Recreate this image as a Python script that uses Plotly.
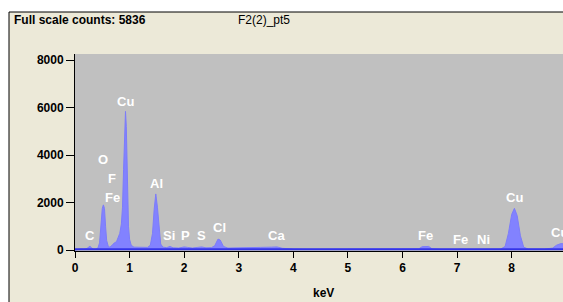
import plotly.graph_objects as go

# Spectrum (keV, counts)
energy_kev = [0.00, 0.05, 0.10, 0.15, 0.20, 0.24, 0.27, 0.30, 0.34, 0.38, 0.42, 0.45, 0.48, 0.50,
              0.52, 0.54, 0.56, 0.58, 0.61, 0.64, 0.68, 0.72, 0.76, 0.79, 0.82, 0.85, 0.87, 0.89,
              0.91, 0.925, 0.94, 0.96, 0.98, 1.00, 1.03, 1.08, 1.15, 1.25, 1.33, 1.38, 1.42, 1.45,
              1.48, 1.51, 1.54, 1.57, 1.61, 1.68, 1.74, 1.80, 1.90, 2.00, 2.06, 2.15, 2.25, 2.32,
              2.40, 2.50, 2.56, 2.62, 2.66, 2.72, 2.80, 3.00, 3.30, 3.40, 3.60, 3.70, 3.80, 4.00,
              4.30, 4.60, 5.00, 5.50, 6.00, 6.30, 6.36, 6.40, 6.48, 6.54, 6.70, 7.00, 7.06, 7.20,
              7.50, 7.80, 7.88, 7.94, 8.00, 8.05, 8.10, 8.16, 8.22, 8.30, 8.60, 8.75, 8.82, 8.90, 8.95]
counts = [0, 30, 40, 40, 50, 90, 170, 90, 40, 40, 80, 300, 1200, 1750,
          1900, 1750, 1000, 400, 150, 120, 200, 300, 350, 550, 700, 1100, 1800, 3400,
          4700, 5836, 5200, 2800, 1000, 450, 200, 120, 110, 100, 110, 200, 700, 1700,
          2360, 1800, 800, 250, 120, 100, 150, 90, 80, 130, 110, 80, 110, 130,
          90, 100, 180, 460, 420, 150, 80, 80, 90, 110, 120, 130, 70, 40,
          30, 30, 30, 30, 30, 50, 140, 150, 150, 50, 30, 30, 40, 30,
          30, 40, 150, 700, 1500, 1755, 1450, 600, 120, 40, 40, 80, 200, 270, 260]

# Element labels (text, keV, counts position)
label_text = ["C", "O", "F", "Fe", "Cu", "Al", "Si", "P", "S", "Cl", "Ca", "Fe", "Fe", "Ni", "Cu", "Cu"]
label_kev = [0.275, 0.51, 0.67, 0.68, 0.93, 1.50, 1.72, 2.03, 2.32, 2.64, 3.70, 6.43, 7.06, 7.49, 8.05, 8.88]
label_cnt = [590, 3830, 3030, 2190, 6270, 2780, 630, 630, 600, 930, 590, 630, 460, 460, 2190, 720]

y_ticks = [0, 2000, 4000, 6000, 8000]
x_ticks = [0, 1, 2, 3, 4, 5, 6, 7, 8]

FONT = "Liberation Sans, Arial, sans-serif"

fig = go.Figure()
fig.add_trace(go.Scatter(x=energy_kev, y=counts, mode="lines", fill="tozeroy",
                         fillcolor="#8282FF", line=dict(color="#7C7CFA", width=1),
                         hoverinfo="skip", showlegend=False))

W, H = 563, 302
L, R, T, B = 75, 0, 54, 51
pw = W - L - R
ph = H - T - B

def px_x(px):
    return (px - L) / pw

def px_y(py):
    return (H - B - py) / ph

shapes = [
    dict(type="rect", xref="paper", yref="paper", x0=px_x(9), x1=1.2, y0=-0.5, y1=px_y(12),
         fillcolor="#ECE9D8", line=dict(color="#000000", width=1), layer="below"),
    dict(type="rect", xref="paper", yref="paper", x0=0, x1=1.01, y0=0, y1=1,
         fillcolor="#C0C0C0", line=dict(width=0), layer="below"),
    dict(type="line", xref="paper", yref="y", x0=0, x1=1, y0=30, y1=30,
         line=dict(color="#3434E8", width=2)),
]

annotations = [
    dict(text="Full scale counts: 5836", xref="paper", yref="paper", x=px_x(12), y=px_y(20),
         xanchor="left", yanchor="middle", showarrow=False,
         font=dict(family=FONT, size=12, color="black", weight="bold")),
    dict(text="F2(2)_pt5", xref="paper", yref="paper", x=px_x(236), y=px_y(20),
         xanchor="left", yanchor="middle", showarrow=False,
         font=dict(family=FONT, size=12, color="black")),
    dict(text="keV", xref="paper", yref="paper", x=px_x(323), y=px_y(293),
         xanchor="center", yanchor="middle", showarrow=False,
         font=dict(family=FONT, size=12, color="black", weight="bold")),
]
for t, xk, yc in zip(label_text, label_kev, label_cnt):
    annotations.append(dict(text=t, x=xk, y=yc, xref="x", yref="y", showarrow=False,
                            xanchor="center", yanchor="middle",
                            font=dict(family=FONT, size=13, color="white", weight="bold")))

fig.update_layout(
    width=W, height=H, autosize=False,
    margin=dict(l=L, r=R, t=T, b=B, pad=0),
    paper_bgcolor="white", plot_bgcolor="rgba(0,0,0,0)",
    shapes=shapes, annotations=annotations, showlegend=False,
    xaxis=dict(range=[0, 8.94], tickvals=x_ticks, ticktext=[str(v) for v in x_ticks],
               showgrid=False, zeroline=False, showline=True, linecolor="black", linewidth=1,
               ticks="outside", ticklen=6, tickcolor="black", tickwidth=1,
               tickfont=dict(family=FONT, size=12, color="black", weight="bold")),
    yaxis=dict(range=[-42, 8253], tickvals=y_ticks, ticktext=[str(v) for v in y_ticks],
               showgrid=False, zeroline=False, showline=True, linecolor="black", linewidth=1,
               ticks="outside", ticklen=8, tickcolor="black", tickwidth=1,
               tickfont=dict(family=FONT, size=12, color="black", weight="bold")),
)

fig.write_html("out.html", config={"displayModeBar": False},
               post_script="document.body.style.margin='0';document.body.style.overflow='hidden';")
